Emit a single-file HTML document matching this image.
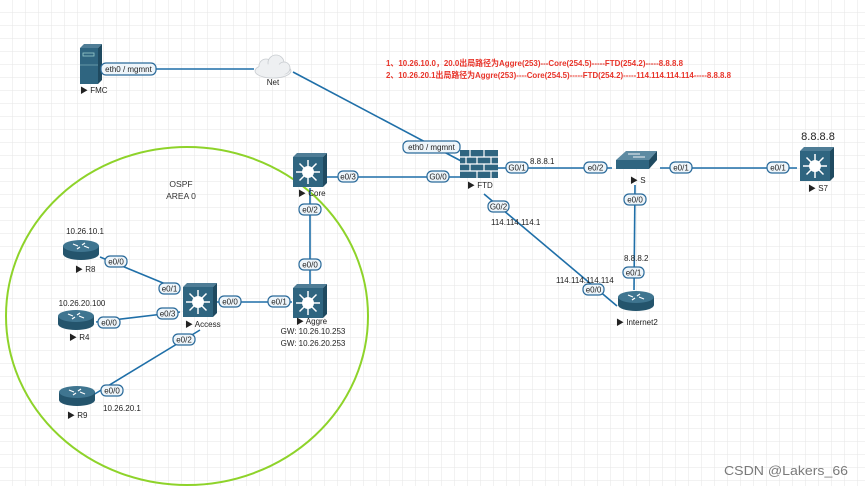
<!DOCTYPE html>
<html><head><meta charset="utf-8"><style>
html,body{margin:0;padding:0;background:#fff}
svg{display:block}
text{font-family:"Liberation Sans","Noto Sans CJK SC",sans-serif}
</style></head><body>
<svg width="865" height="486" viewBox="0 0 865 486" xmlns="http://www.w3.org/2000/svg">
<defs>
<pattern id="g" width="13" height="13" patternUnits="userSpaceOnUse">
<path d="M13 0V13H0" fill="none" stroke="#e6e6e6" stroke-width="1"/>
</pattern>
<g id="mls">
<path d="M0 4 L4 0 L34 0 L30 4Z" fill="#4f7d96"/>
<path d="M30 4 L34 0 L34 30 L30 34Z" fill="#1f4a60"/>
<rect x="0" y="4" width="30" height="30" fill="#2f6580"/>
<circle cx="15" cy="19" r="6" fill="#fff"/>
<g stroke="#fff" stroke-width="1.5">
<line x1="15" y1="7" x2="15" y2="31"/><line x1="3" y1="19" x2="27" y2="19"/>
<line x1="6.5" y1="10.5" x2="23.5" y2="27.5"/><line x1="23.5" y1="10.5" x2="6.5" y2="27.5"/>
</g>
</g>
<g id="rtr">
<path d="M0 6 V14 A18 6 0 0 0 36 14 V6Z" fill="#24546c"/>
<ellipse cx="18" cy="6" rx="18" ry="6" fill="#3f7590"/>
<g stroke="#fff" stroke-width="1.2"><line x1="10" y1="4" x2="15" y2="6"/><line x1="26" y1="8" x2="21" y2="6"/><line x1="14" y1="9" x2="17" y2="7"/><line x1="22" y1="3" x2="19" y2="5"/></g>
</g>
</defs>
<rect width="865" height="486" fill="url(#g)"/>

<ellipse cx="187" cy="316" rx="181" ry="169" fill="none" stroke="#8ed32a" stroke-width="2"/>
<text x="181" y="187" font-size="8.5" text-anchor="middle" fill="#333">OSPF</text>
<text x="181" y="199" font-size="8.5" text-anchor="middle" fill="#333">AREA 0</text>

<g stroke="#1f6fa8" stroke-width="1.6" fill="none">
<line x1="102" y1="69" x2="254" y2="69"/>
<line x1="293" y1="72" x2="463" y2="162"/>
<line x1="320" y1="177" x2="460" y2="177"/>
<line x1="498" y1="168" x2="612" y2="168"/>
<line x1="660" y1="168" x2="797" y2="168"/>
<line x1="635" y1="185" x2="634" y2="290"/>
<line x1="484" y1="194" x2="617" y2="306"/>
<line x1="310" y1="188" x2="310" y2="285"/>
<line x1="100" y1="257" x2="180" y2="290"/>
<line x1="96" y1="322" x2="180" y2="312"/>
<line x1="93" y1="395" x2="200" y2="330"/>
<line x1="217" y1="302" x2="292" y2="302"/>
</g>

<path d="M80 48 L84 44 L102 44 L98 48Z" fill="#4f7d96"/>
<path d="M98 48 L102 44 L102 80 L98 84Z" fill="#1f4a60"/>
<rect x="80" y="48" width="18" height="36" fill="#2f6580"/>
<rect x="83" y="53" width="11" height="3" fill="none" stroke="#9cc" stroke-width="0.8"/>
<line x1="80" y1="65" x2="98" y2="65" stroke="#9cc" stroke-width="0.6"/>
<text x="80" y="93" font-size="8" fill="#222">▶ FMC</text>

<g fill="#eef0f2" stroke="#c8ccd0" stroke-width="0.8">
<ellipse cx="273" cy="71" rx="18" ry="7"/>
<circle cx="266" cy="66" r="7"/>
<circle cx="276" cy="63" r="8"/>
<circle cx="284" cy="68" r="6"/>
</g>
<ellipse cx="273" cy="70" rx="16" ry="6" fill="#eef0f2"/>
<text x="273" y="85" font-size="8" text-anchor="middle" fill="#222">Net</text>

<text x="386" y="66" font-size="8.3" font-weight="bold" fill="#e8342a" textLength="297" lengthAdjust="spacingAndGlyphs">1、10.26.10.0，20.0出局路径为Aggre(253)---Core(254.5)-----FTD(254.2)-----8.8.8.8</text>
<text x="386" y="78" font-size="8.3" font-weight="bold" fill="#e8342a" textLength="345" lengthAdjust="spacingAndGlyphs">2、10.26.20.1出局路径为Aggre(253)----Core(254.5)-----FTD(254.2)-----114.114.114.114-----8.8.8.8</text>

<rect x="460" y="150" width="38" height="28" fill="#2f6580"/>
<g stroke="#fff" stroke-width="1.2">
<line x1="460" y1="157" x2="498" y2="157"/><line x1="460" y1="164" x2="498" y2="164"/><line x1="460" y1="171" x2="498" y2="171"/>
<line x1="470" y1="150" x2="470" y2="157"/><line x1="484" y1="150" x2="484" y2="157"/>
<line x1="477" y1="157" x2="477" y2="164"/><line x1="491" y1="157" x2="491" y2="164"/><line x1="466" y1="157" x2="466" y2="164"/>
<line x1="470" y1="164" x2="470" y2="171"/><line x1="484" y1="164" x2="484" y2="171"/>
<line x1="477" y1="171" x2="477" y2="178"/><line x1="491" y1="171" x2="491" y2="178"/>
</g>
<text x="467" y="188" font-size="8" fill="#222">▶ FTD</text>

<path d="M616 160 L626 151 L657 151 L649 160Z" fill="#5d8aa2"/>
<rect x="616" y="160" width="33" height="9" fill="#2f6580"/>
<path d="M649 160 L657 151 L657 160 L649 169Z" fill="#1f4a60"/>
<g stroke="#fff" stroke-width="0.9"><line x1="628" y1="154" x2="640" y2="154"/><line x1="633" y1="157" x2="645" y2="157"/></g>
<text x="630" y="183" font-size="8" fill="#222">▶ S</text>

<use href="#mls" x="800" y="147"/>
<text x="818" y="140" font-size="11" text-anchor="middle" fill="#222">8.8.8.8</text>
<text x="808" y="191" font-size="8" fill="#222">▶ S7</text>

<use href="#mls" x="293" y="153"/>
<text x="298" y="196" font-size="8" fill="#222">▶ Core</text>
<use href="#mls" x="293" y="284"/>
<text x="296" y="324" font-size="8" fill="#222">▶ Aggre</text>
<text x="313" y="334" font-size="8" text-anchor="middle" fill="#222">GW: 10.26.10.253</text>
<text x="313" y="346" font-size="8" text-anchor="middle" fill="#222">GW: 10.26.20.253</text>
<use href="#mls" x="183" y="283"/>
<text x="185" y="327" font-size="8" fill="#222">▶ Access</text>

<use href="#rtr" x="63" y="240"/>
<text x="85" y="234" font-size="8" text-anchor="middle" fill="#222">10.26.10.1</text>
<text x="75" y="272" font-size="8" fill="#222">▶ R8</text>
<use href="#rtr" x="58" y="310"/>
<text x="82" y="306" font-size="8" text-anchor="middle" fill="#222">10.26.20.100</text>
<text x="69" y="340" font-size="8" fill="#222">▶ R4</text>
<use href="#rtr" x="59" y="386"/>
<text x="103" y="411" font-size="8" fill="#222">10.26.20.1</text>
<text x="67" y="418" font-size="8" fill="#222">▶ R9</text>
<use href="#rtr" x="618" y="291"/>
<text x="616" y="325" font-size="8" fill="#222">▶ Internet2</text>

<text x="530" y="164" font-size="8" fill="#222">8.8.8.1</text>
<text x="491" y="225" font-size="8" fill="#222">114.114.114.1</text>
<text x="556" y="283" font-size="8" fill="#222">114.114.114.114</text>
<text x="624" y="261" font-size="8" fill="#222">8.8.8.2</text>

<g font-size="8" fill="#222" text-anchor="middle">
<g stroke="#2a6a9a" stroke-width="1.2" fill="#eef5fa">
<rect x="101" y="63" width="55" height="12" rx="5"/>
<rect x="403" y="141" width="57" height="12" rx="5"/>
<rect x="338" y="171" width="20" height="11" rx="5"/>
<rect x="427" y="171" width="22" height="11" rx="5"/>
<rect x="506" y="162" width="22" height="11" rx="5"/>
<rect x="584" y="162" width="23" height="11" rx="5"/>
<rect x="670" y="162" width="22" height="11" rx="5"/>
<rect x="767" y="162" width="22" height="11" rx="5"/>
<rect x="624" y="194" width="22" height="11" rx="5"/>
<rect x="488" y="201" width="21" height="11" rx="5"/>
<rect x="623" y="267" width="21" height="11" rx="5"/>
<rect x="583" y="284" width="21" height="11" rx="5"/>
<rect x="299" y="204" width="22" height="11" rx="5"/>
<rect x="299" y="259" width="22" height="11" rx="5"/>
<rect x="105" y="256" width="22" height="11" rx="5"/>
<rect x="159" y="283" width="21" height="11" rx="5"/>
<rect x="157" y="308" width="21" height="11" rx="5"/>
<rect x="98" y="317" width="22" height="11" rx="5"/>
<rect x="173" y="334" width="22" height="11" rx="5"/>
<rect x="101" y="385" width="22" height="11" rx="5"/>
<rect x="219" y="296" width="22" height="11" rx="5"/>
<rect x="268" y="296" width="22" height="11" rx="5"/>
</g>
<text x="128.5" y="72">eth0 / mgmnt</text>
<text x="431.5" y="150">eth0 / mgmnt</text>
<text x="348" y="179.5">e0/3</text>
<text x="438" y="179.5">G0/0</text>
<text x="517" y="170.5">G0/1</text>
<text x="595.5" y="170.5">e0/2</text>
<text x="681" y="170.5">e0/1</text>
<text x="778" y="170.5">e0/1</text>
<text x="635" y="202.5">e0/0</text>
<text x="498.5" y="209.5">G0/2</text>
<text x="633.5" y="275.5">e0/1</text>
<text x="593.5" y="292.5">e0/0</text>
<text x="310" y="212.5">e0/2</text>
<text x="310" y="267.5">e0/0</text>
<text x="116" y="264.5">e0/0</text>
<text x="169.5" y="291.5">e0/1</text>
<text x="167.5" y="316.5">e0/3</text>
<text x="109" y="325.5">e0/0</text>
<text x="184" y="342.5">e0/2</text>
<text x="112" y="393.5">e0/0</text>
<text x="230" y="304.5">e0/0</text>
<text x="279" y="304.5">e0/1</text>
</g>

<text x="848" y="475" font-size="13" fill="#7a7a7a" text-anchor="end" textLength="124" lengthAdjust="spacingAndGlyphs">CSDN @Lakers_66</text>
</svg>
</body></html>
